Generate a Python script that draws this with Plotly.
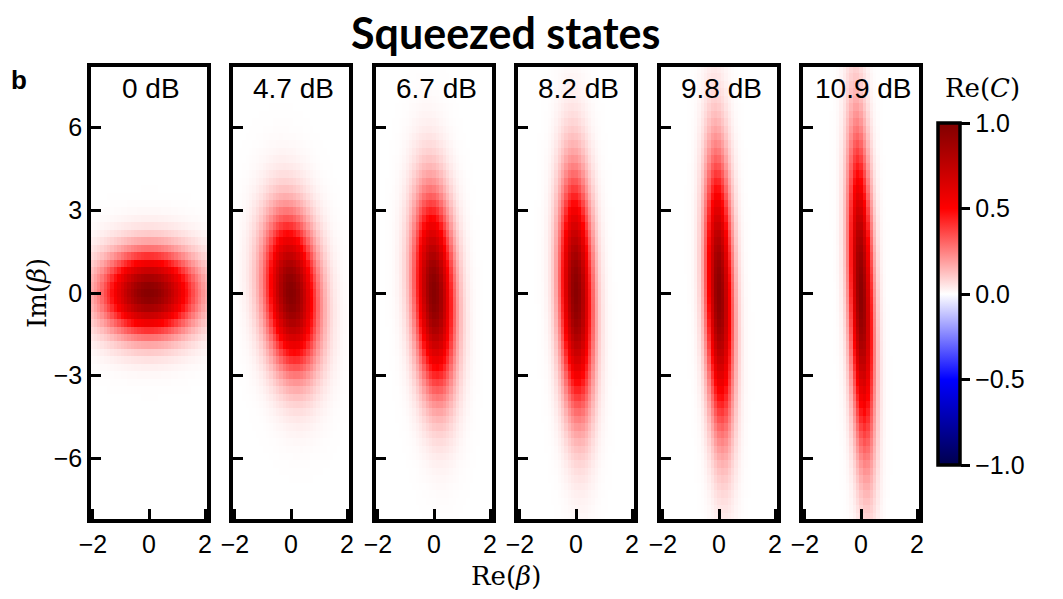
import numpy as np
import plotly.graph_objects as go

# ---- data ----
panel_labels = ["0 dB", "4.7 dB", "6.7 dB", "8.2 dB", "9.8 dB", "10.9 dB"]
sigma_re = [1.10, 0.62, 0.47, 0.39, 0.32, 0.28]     # width along Re(beta)
sigma_im = [1.02, 1.85, 2.35, 2.80, 3.25, 3.75]     # width along Im(beta)
peak = [0.97, 0.97, 0.97, 0.96, 0.95, 0.95]         # central value of Re(C)
tilt = [0.0, 0.055, 0.035, 0.02, 0.02, 0.025]       # shift of Re centre per unit Im
re_beta = np.round(np.arange(-2.04, 2.05, 0.12), 3)
im_beta = np.round(np.arange(-8.1, 8.11, 0.27), 3)
y_ticks = [-6, -3, 0, 3, 6]
x_ticks = [-2, 0, 2]
cbar_ticks = [-1.0, -0.5, 0.0, 0.5, 1.0]

# page body has an 8px margin: figure is placed at (8, 8) in the window
OFF = 8
W, H = 1063 - OFF, 599 - OFF
lefts = [91, 233, 376, 518, 661, 803]
pw = 116
top, bottom = 67, 519

def px(x):
    return (x - OFF) / W

def py(y):
    return 1 - (y - OFF) / H

seismic = [[0, 'rgb(0,0,77)'], [0.25, 'rgb(0,0,255)'], [0.5, 'rgb(255,255,255)'],
           [0.75, 'rgb(255,0,0)'], [1, 'rgb(128,0,0)']]

fig = go.Figure()
X, Y = np.meshgrid(re_beta, im_beta)
tfont = dict(family="Liberation Sans, Arial", size=25, color="black")
for i in range(6):
    xc = -tilt[i] * Y
    Z = peak[i] * np.exp(-((X - xc) ** 2) / (2 * sigma_re[i] ** 2) - (Y ** 2) / (2 * sigma_im[i] ** 2))
    sfx = "" if i == 0 else str(i + 1)
    fig.add_trace(go.Heatmap(x=re_beta, y=im_beta, z=Z, coloraxis="coloraxis",
                             xaxis="x" + sfx, yaxis="y" + sfx, zsmooth=False,
                             hoverinfo="skip"))
    xa = dict(domain=[px(lefts[i]), px(lefts[i] + pw)], range=[-2.07, 2.07], automargin=False,
              anchor="y" + sfx, tickvals=x_ticks, ticks="inside", ticklen=10, tickwidth=3,
              tickcolor="black", showline=True, mirror=True, linewidth=3.5, linecolor="black",
              showgrid=False, zeroline=False, tickfont=tfont)
    ya = dict(domain=[py(bottom), py(top)], range=[-8.2, 8.2], automargin=False,
              anchor="x" + sfx, tickvals=y_ticks, ticks="inside", ticklen=10, tickwidth=3,
              tickcolor="black", showline=True, mirror=True, linewidth=3.5, linecolor="black",
              showgrid=False, zeroline=False, showticklabels=(i == 0), tickfont=tfont)
    fig.update_layout(**{"xaxis" + sfx: xa, "yaxis" + sfx: ya})
    fig.add_annotation(x=px(lefts[i] + pw / 2 + 2), y=py(88), xref="paper", yref="paper",
                       text=panel_labels[i], showarrow=False, xanchor="center", yanchor="middle",
                       font=dict(family="Liberation Sans, Arial", size=28, color="black"))

fig.update_layout(
    width=W, height=H, margin=dict(l=0, r=0, t=0, b=0, autoexpand=False),
    paper_bgcolor="white", plot_bgcolor="white", showlegend=False,
    coloraxis=dict(colorscale=seismic, cmin=-1, cmax=1,
                   colorbar=dict(x=px(938), xanchor="left", xpad=0, ypad=0, y=py(294), yanchor="middle",
                                 len=342 / H, lenmode="fraction", thickness=22, thicknessmode="pixels",
                                 outlinewidth=3.5, outlinecolor="black",
                                 tickvals=cbar_ticks, ticktext=["−1.0", "−0.5", "0.0", "0.5", "1.0"],
                                 ticks="outside", ticklen=9, tickwidth=3, tickcolor="black",
                                 tickfont=tfont)),
)

def note(x, y, text, font, angle=0, xanchor="center"):
    fig.add_annotation(x=px(x), y=py(y), xref="paper", yref="paper", text=text, textangle=angle,
                       showarrow=False, xanchor=xanchor, yanchor="middle", font=font)

serif = dict(family="DejaVu Serif", size=26, color="black")
note(505, 32, "<b>Squeezed states</b>", dict(family="Lato", size=43, color="black"))
note(9, 80, "<b>b</b>", dict(family="Liberation Sans, Arial", size=26, color="black"), xanchor="left")
note(982, 88, "Re(<i>C</i>)", serif)
note(506, 576, "Re(<i>β</i>)", serif)
note(37, 293, "Im(<i>β</i>)", serif, angle=-90)

fig.write_html("out.html")
